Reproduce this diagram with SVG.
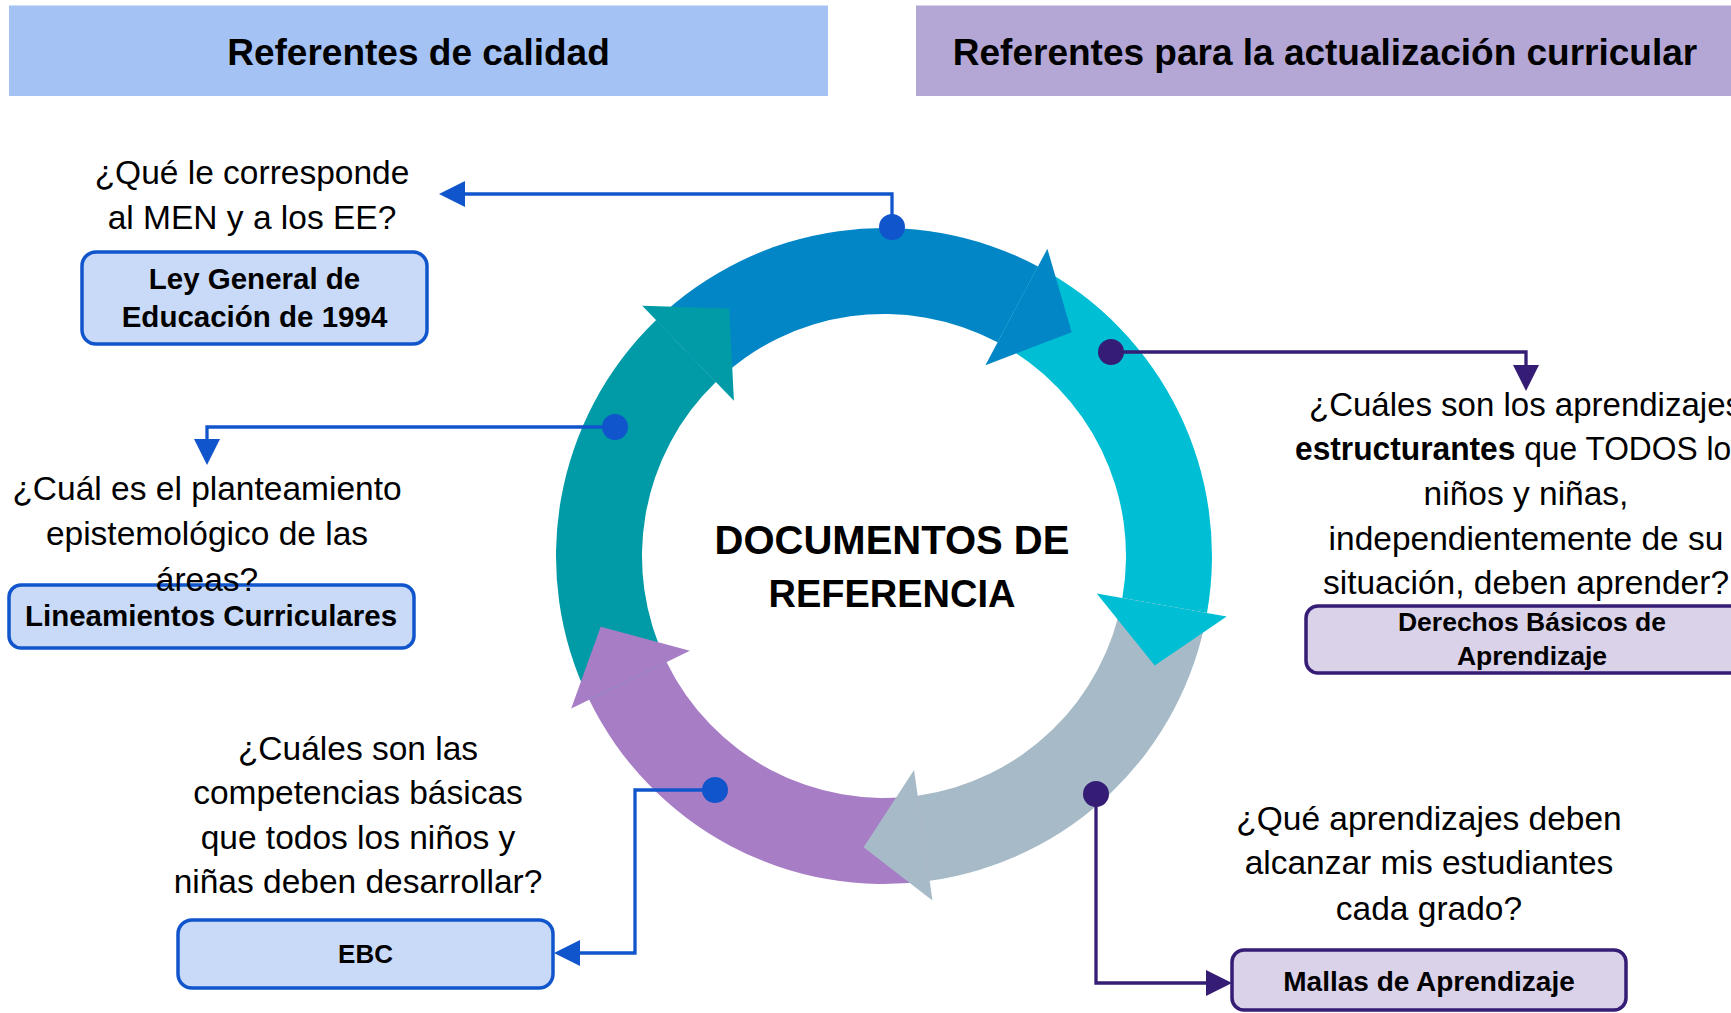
<svg xmlns="http://www.w3.org/2000/svg" width="1731" height="1013" viewBox="0 0 1731 1013">
<style>
text{font-family:"Liberation Sans",Arial,sans-serif;fill:#000}
.hdr{font-size:37px;font-weight:bold;text-anchor:middle}
.q{font-size:33.5px;text-anchor:middle}
.bt{font-size:29.5px;font-weight:bold;text-anchor:middle}
.ctr{font-size:40px;font-weight:bold;text-anchor:middle}
.bbox{fill:#C9DAF8;stroke:#1155CC;stroke-width:3.5}
.pbox{fill:#D9D2E9;stroke:#351C75;stroke-width:3.5}
.bl{fill:none;stroke:#1155CC;stroke-width:3.3}
.pl{fill:none;stroke:#351C75;stroke-width:3.3}
</style>
<defs>
<marker id="ah-b" markerUnits="userSpaceOnUse" markerWidth="28" markerHeight="26" refX="1" refY="13" orient="auto" viewBox="0 0 28 26"><path d="M0,0 L26,13 L0,26 z" fill="#1155CC"/></marker>
<marker id="ah-p" markerUnits="userSpaceOnUse" markerWidth="28" markerHeight="26" refX="1" refY="13" orient="auto" viewBox="0 0 28 26"><path d="M0,0 L26,13 L0,26 z" fill="#351C75"/></marker>
</defs>
<rect width="1731" height="1013" fill="#fff"/>

<g id="header-calidad">
<rect x="9" y="5.5" width="819" height="90.5" fill="#A4C2F4"/>
<text class="hdr" x="418.5" y="65">Referentes de calidad</text>
</g>
<g id="header-actualizacion">
<rect x="916" y="5.5" width="830" height="90.5" fill="#B4A7D6"/>
<text class="hdr" x="1325" y="65">Referentes para la actualización curricular</text>
</g>

<g id="ciclo">
<g id="bodies">
<path d="M656.14,320.07 A328,328 0 0 1 1038.0,266.41 L997.62,342.34 A242,242 0 0 0 715.88,381.93 Z" fill="#0286C6"/>
<path d="M1038.0,266.41 A328,328 0 0 1 1207.01,612.94 L1122.32,598.01 A242,242 0 0 0 997.62,342.34 Z" fill="#00BFD5"/>
<path d="M1207.01,612.94 A328,328 0 0 1 929.66,880.82 L917.69,795.65 A242,242 0 0 0 1122.32,598.01 Z" fill="#A6BBC7"/>
<path d="M929.66,880.82 A328,328 0 0 1 589.19,699.80 L666.49,662.09 A242,242 0 0 0 917.69,795.65 Z" fill="#A77DC6"/>
<path d="M589.19,699.80 A328,328 0 0 1 656.14,320.07 L715.88,381.93 A242,242 0 0 0 666.49,662.09 Z" fill="#009BA7"/>
</g>
<g id="heads">
<polygon points="1047.39,248.75 1071.70,332.33 985.41,365.29" fill="#0286C6"/>
<polygon points="1226.71,616.41 1154.74,665.38 1096.72,593.50" fill="#00BFD5"/>
<polygon points="932.44,900.62 863.62,847.30 914.07,769.90" fill="#A6BBC7"/>
<polygon points="571.22,708.56 600.67,626.63 689.86,650.69" fill="#A77DC6"/>
<polygon points="642.24,305.68 729.27,308.38 733.94,400.63" fill="#009BA7"/>
</g>
</g>

<g id="centro">
<text class="ctr" x="892" y="554">DOCUMENTOS DE</text>
<text class="ctr" x="892" y="607" style="font-size:38px">REFERENCIA</text>
</g>

<g id="connectors">
<path class="bl" d="M892,227 V194 H464" marker-end="url(#ah-b)"/>
<circle cx="892" cy="227" r="13" fill="#1155CC"/>
<path class="bl" d="M615,427 H207 V440" marker-end="url(#ah-b)"/>
<circle cx="615" cy="427" r="13" fill="#1155CC"/>
<path class="bl" d="M715,790 H635 V953 H579" marker-end="url(#ah-b)"/>
<circle cx="715" cy="790" r="13" fill="#1155CC"/>
<path class="pl" d="M1111,352 H1526 V366" marker-end="url(#ah-p)"/>
<circle cx="1111" cy="352" r="13" fill="#351C75"/>
<path class="pl" d="M1096,794 V983 H1207" marker-end="url(#ah-p)"/>
<circle cx="1096" cy="794" r="13" fill="#351C75"/>
</g>

<g id="ley-general">
<text class="q" x="252" y="184">¿Qué le corresponde</text>
<text class="q" x="252" y="229">al MEN y a los EE?</text>
<rect class="bbox" x="82" y="252" width="345" height="92" rx="14"/>
<text class="bt" x="254.5" y="289">Ley General de</text>
<text class="bt" x="254.5" y="327">Educación de 1994</text>
</g>

<g id="lineamientos">
<text class="q" x="207" y="500">¿Cuál es el planteamiento</text>
<text class="q" x="207" y="545">epistemológico de las</text>
<rect class="bbox" x="9" y="585" width="405" height="63" rx="12"/>
<text class="q" x="207" y="591">áreas?</text>
<text class="bt" x="211" y="626">Lineamientos Curriculares</text>
</g>

<g id="ebc">
<text class="q" x="358" y="760">¿Cuáles son las</text>
<text class="q" x="358" y="804">competencias básicas</text>
<text class="q" x="358" y="849">que todos los niños y</text>
<text class="q" x="358" y="893">niñas deben desarrollar?</text>
<rect class="bbox" x="178" y="920" width="375" height="68" rx="14"/>
<text class="bt" x="365.5" y="963" style="font-size:26px">EBC</text>
</g>

<g id="dba">
<text class="q" x="1309" y="416" style="text-anchor:start" textLength="433" lengthAdjust="spacingAndGlyphs">¿Cuáles son los aprendizajes</text>
<text class="q" x="1295" y="460" style="text-anchor:start" textLength="452" lengthAdjust="spacingAndGlyphs"><tspan font-weight="bold">estructurantes</tspan> que TODOS los</text>
<text class="q" x="1526" y="505">niños y niñas,</text>
<text class="q" x="1526" y="550">independientemente de su</text>
<text class="q" x="1526" y="594">situación, deben aprender?</text>
<rect class="pbox" x="1306" y="606" width="460" height="67" rx="12"/>
<text class="bt" x="1532" y="631" style="font-size:26.5px">Derechos Básicos de</text>
<text class="bt" x="1532" y="665" style="font-size:26.5px">Aprendizaje</text>
</g>

<g id="mallas">
<text class="q" x="1429" y="830">¿Qué aprendizajes deben</text>
<text class="q" x="1429" y="874">alcanzar mis estudiantes</text>
<text class="q" x="1429" y="920">cada grado?</text>
<rect class="pbox" x="1232" y="950" width="394" height="60" rx="12"/>
<text class="bt" x="1429" y="991" style="font-size:28px">Mallas de Aprendizaje</text>
</g>
</svg>
